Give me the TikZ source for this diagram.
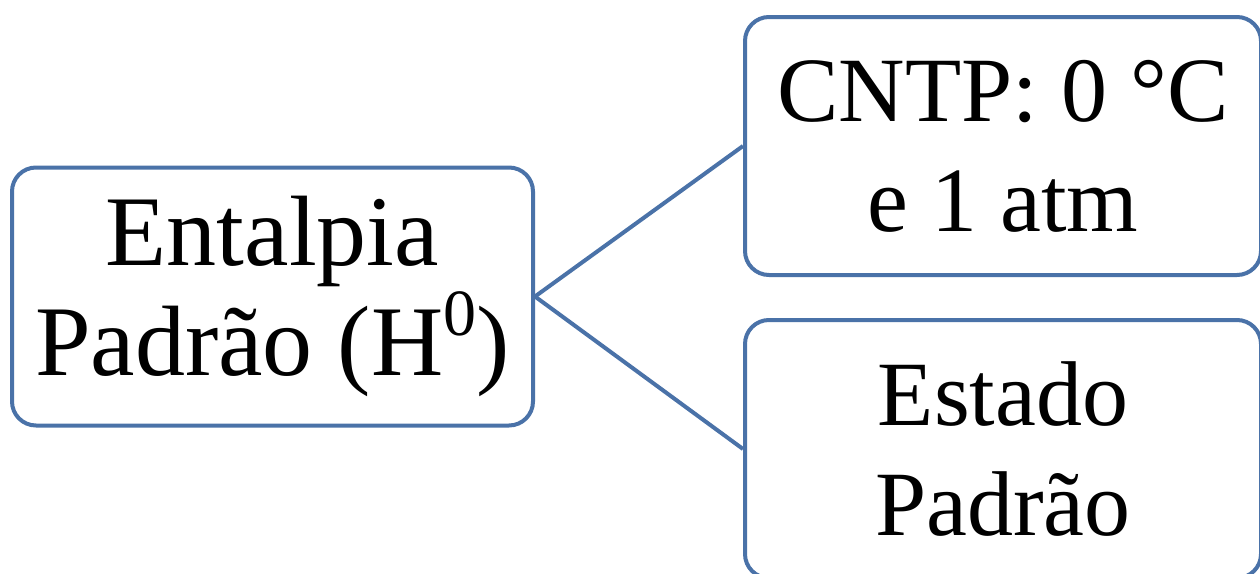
\documentclass[tikz,border=0pt]{standalone}
\usepackage{fontspec}
\setmainfont{Liberation Serif}
\usepackage{tikz}
\definecolor{myblue}{RGB}{74,114,168}
\newcommand{\widthleft}{521pt}
\newcommand{\widthright}{516pt}
\newcommand{\heightbox}{258pt}
\newcommand{\zerosup}{\smash{\raisebox{0.4em}{\fontsize{66}{66}\selectfont 0}}}
\tikzset{
    common/.style={draw=myblue, line width=4pt, rounded corners=24pt, fill=white,
        align=center, inner sep=0pt, minimum height=\heightbox},
    topic/.style={common, minimum width=\widthleft, font=\fontsize{100}{110}\selectfont},
    detail/.style={common, minimum width=\widthright, font=\fontsize{92}{110}\selectfont},
    link/.style={draw=myblue, line width=4pt}
}
\begin{document}
\begin{tikzpicture}[x=1pt, y=-1pt]
    \useasboundingbox (0,0) rectangle (1260,573);

    \node[topic] (entalpia) at (272.5,296.5) {Entalpia\\Padrão (H\zerosup)};
    \node[detail] (cntp) at (1003,146) {CNTP: 0 °C\\e 1 atm};
    \node[detail] (estado) at (1003,449) {Estado\\Padrão};

    \draw[link] (entalpia.east) -- (cntp.west);
    \draw[link] (entalpia.east) -- (estado.west);
\end{tikzpicture}
\end{document}
